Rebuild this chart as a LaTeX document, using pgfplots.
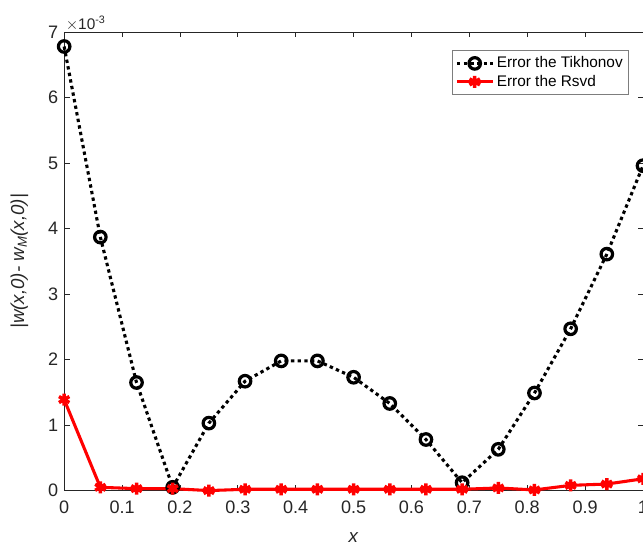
\documentclass[border=0pt]{standalone}
\usepackage{pgfplots}
\pgfplotsset{compat=1.18}
\usepackage{fontspec}
\setmainfont{Liberation Sans}
\definecolor{axgray}{rgb}{0.15,0.15,0.15}
\begin{document}
\begin{tikzpicture}
\begin{axis}[
  name=ax,
  width=433pt, height=343pt,
  scale only axis,
  xmin=0, xmax=1, ymin=0, ymax=7,
  xtick={0,0.1,0.2,0.3,0.4,0.5,0.6,0.7,0.8,0.9,1},
  xticklabels={0,0.1,0.2,0.3,0.4,0.5,0.6,0.7,0.8,0.9,1},
  ytick={0,1,2,3,4,5,6,7},
  tick align=inside,
  major tick length=4pt,
  axis line style={axgray, line width=0.5pt},
  every tick/.style={axgray, line width=0.5pt},
  tick label style={font=\fontsize{13.5}{16}\selectfont, text=axgray},
  /pgf/number format/assume math mode=true,
  xticklabel style={yshift=-4.5pt},
  yticklabel style={xshift=-1pt},
  xlabel={\textit{x}},
  ylabel={\textit{|w(x,0)- w\textsubscript{M}(x,0)|}},
  label style={font=\fontsize{14}{16}\selectfont, text=axgray},
  xlabel style={yshift=-7pt},
  ylabel style={yshift=8pt},
  legend style={at={(0.976,0.96)}, anchor=north east, font=\fontsize{11.5}{14}\selectfont,
    draw=axgray!60, line width=0.6pt, inner sep=2.5pt, row sep=0pt},
  legend image code/.code={%
    \draw[mark repeat=2,mark phase=2,#1] plot coordinates {(0cm,0cm) (0.47cm,0cm) (0.94cm,0cm)};},
  legend cell align=left,
  clip=false,
]
\addplot[black, line width=2.3pt, dash pattern=on 2.5pt off 2.5pt, mark=o, mark size=4.3pt,
  mark options={solid, line width=2.4pt}]
  coordinates {
  (0,6.78) (0.0625,3.87) (0.125,1.65) (0.1875,0.05) (0.25,1.03) (0.3125,1.67)
  (0.375,1.98) (0.4375,1.98) (0.5,1.73) (0.5625,1.33) (0.625,0.78) (0.6875,0.12)
  (0.75,0.63) (0.8125,1.49) (0.875,2.47) (0.9375,3.61) (1,4.96)};
\addlegendentry{Error the Tikhonov}
\addplot[red, line width=2.3pt, mark=asterisk, mark size=4.5pt,
  mark options={solid, line width=2.6pt}]
  coordinates {
  (0,1.39) (0.0625,0.05) (0.125,0.03) (0.1875,0.03) (0.25,0.0) (0.3125,0.02)
  (0.375,0.02) (0.4375,0.02) (0.5,0.02) (0.5625,0.02) (0.625,0.02) (0.6875,0.02)
  (0.75,0.04) (0.8125,0.01) (0.875,0.08) (0.9375,0.1) (1,0.18)};
\addlegendentry{Error the Rsvd}
\node[anchor=south west, inner sep=1pt, text=axgray, font=\fontsize{11.5}{13}\selectfont]
  at (rel axis cs:0,1) {$\times$10\textsuperscript{-3}};
\end{axis}
\pgfresetboundingbox
\path[use as bounding box] ([shift={(-48pt,-42.75pt)}]ax.south west) rectangle ([shift={(0pt,24pt)}]ax.north east);
\end{tikzpicture}
\end{document}
